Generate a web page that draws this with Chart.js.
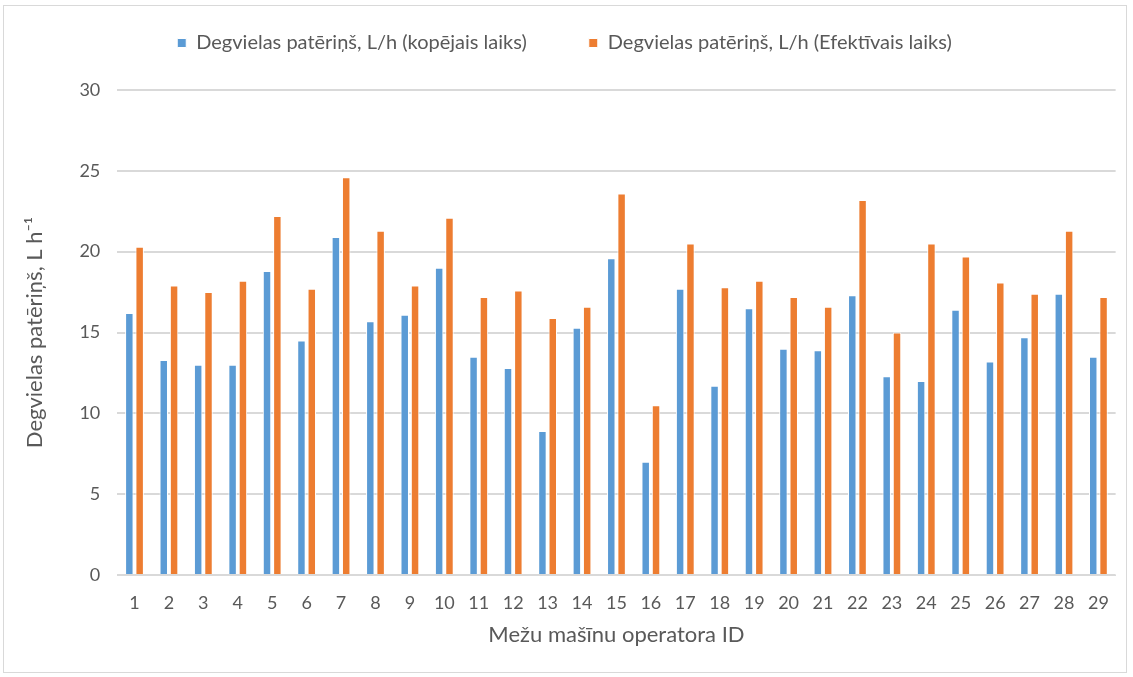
<!DOCTYPE html>
<html>
<head>
<meta charset="utf-8">
<script src="https://cdn.jsdelivr.net/npm/chart.js@4"></script>
<style>
  body { margin: 0; background: #fff; }
  #wrap {
    position: absolute; left: 3px; top: 5px;
    width: 1124px; height: 668px;
    border: 1px solid #d9d9d9; box-sizing: border-box;
  }
</style>
</head>
<body>
<div id="wrap"><canvas id="fuelChart"></canvas></div>
<script>
// operator IDs 1..29
var operatorIds = ['1','2','3','4','5','6','7','8','9','10','11','12','13','14','15',
  '16','17','18','19','20','21','22','23','24','25','26','27','28','29'];

// fuel use over total time, L/h
var totalTime = [16.2, 13.3, 13.0, 13.0, 18.8, 14.5, 20.9, 15.7, 16.1, 19.0,
  13.5, 12.8, 8.9, 15.3, 19.6, 7.0, 17.7, 11.7, 16.5, 14.0,
  13.9, 17.3, 12.3, 12.0, 16.4, 13.2, 14.7, 17.4, 13.5];

// fuel use over effective time, L/h
var effectiveTime = [20.3, 17.9, 17.5, 18.2, 22.2, 17.7, 24.6, 21.3, 17.9, 22.1,
  17.2, 17.6, 15.9, 16.6, 23.6, 10.5, 20.5, 17.8, 18.2, 17.2,
  16.6, 23.2, 15.0, 20.5, 19.7, 18.1, 17.4, 21.3, 17.2];

var yTicks = [0, 5, 10, 15, 20, 25, 30];

var txt = '#595959';
var grid = '#d9d9d9';
var font = "Lato, 'Open Sans', sans-serif";

var data = {
  labels: operatorIds,
  datasets: [{
    label: 'Degvielas patēriņš, L/h (kopējais laiks)',
    data: totalTime,
    backgroundColor: '#5b9bd5',
    borderColor: '#ffffff',
    borderWidth: 1,
    barPercentage: 0.82,
    categoryPercentage: 0.6
  }, {
    label: 'Degvielas patēriņš, L/h (Efektīvais laiks)',
    data: effectiveTime,
    backgroundColor: '#ed7d31',
    borderColor: '#ffffff',
    borderWidth: 1,
    barPercentage: 0.82,
    categoryPercentage: 0.6
  }]
};

var config = {
  type: 'bar',
  data: data,
  options: {
    responsive: true,
    maintainAspectRatio: false,
    animation: false,
    layout: { padding: { left: 8, right: 9, top: -35, bottom: 24 } },
    plugins: {
      tooltip: { enabled: false },
      // empty title used as a spacer between legend and plot
      title: {
        display: true,
        text: '',
        font: { size: 10 },
        padding: { top: 8, bottom: 7 }
      },
      legend: {
        position: 'top',
        weight: 3000,
        labels: {
          color: txt,
          font: { family: font, size: 20 },
          boxWidth: 9,
          boxHeight: 9,
          padding: 62,
          useBorderRadius: false
        }
      }
    },
    scales: {
      x: {
        grid: { display: false, drawTicks: false },
        border: { display: true, color: grid, width: 1 },
        ticks: { color: txt, font: { family: font, size: 18 }, padding: 17 },
        title: {
          display: true,
          text: 'Mežu mašīnu operatora ID',
          color: txt,
          font: { family: font, size: 22 },
          padding: { top: -9, bottom: 0 }
        }
      },
      y: {
        min: 0,
        max: 30,
        afterBuildTicks: function (axis) {
          axis.ticks = yTicks.map(function (v) { return { value: v }; });
        },
        grid: { color: grid, lineWidth: 2, drawTicks: false },
        border: { display: false },
        ticks: { color: txt, font: { family: font, size: 18 }, padding: 17 },
        title: {
          display: true,
          text: 'Degvielas patēriņš, L h⁻¹',
          color: txt,
          font: { family: font, size: 22 },
          padding: { top: 10, bottom: 14 }
        }
      }
    }
  }
};

var fuelChart = new Chart(document.getElementById('fuelChart'), config);
</script>
</body>
</html>
